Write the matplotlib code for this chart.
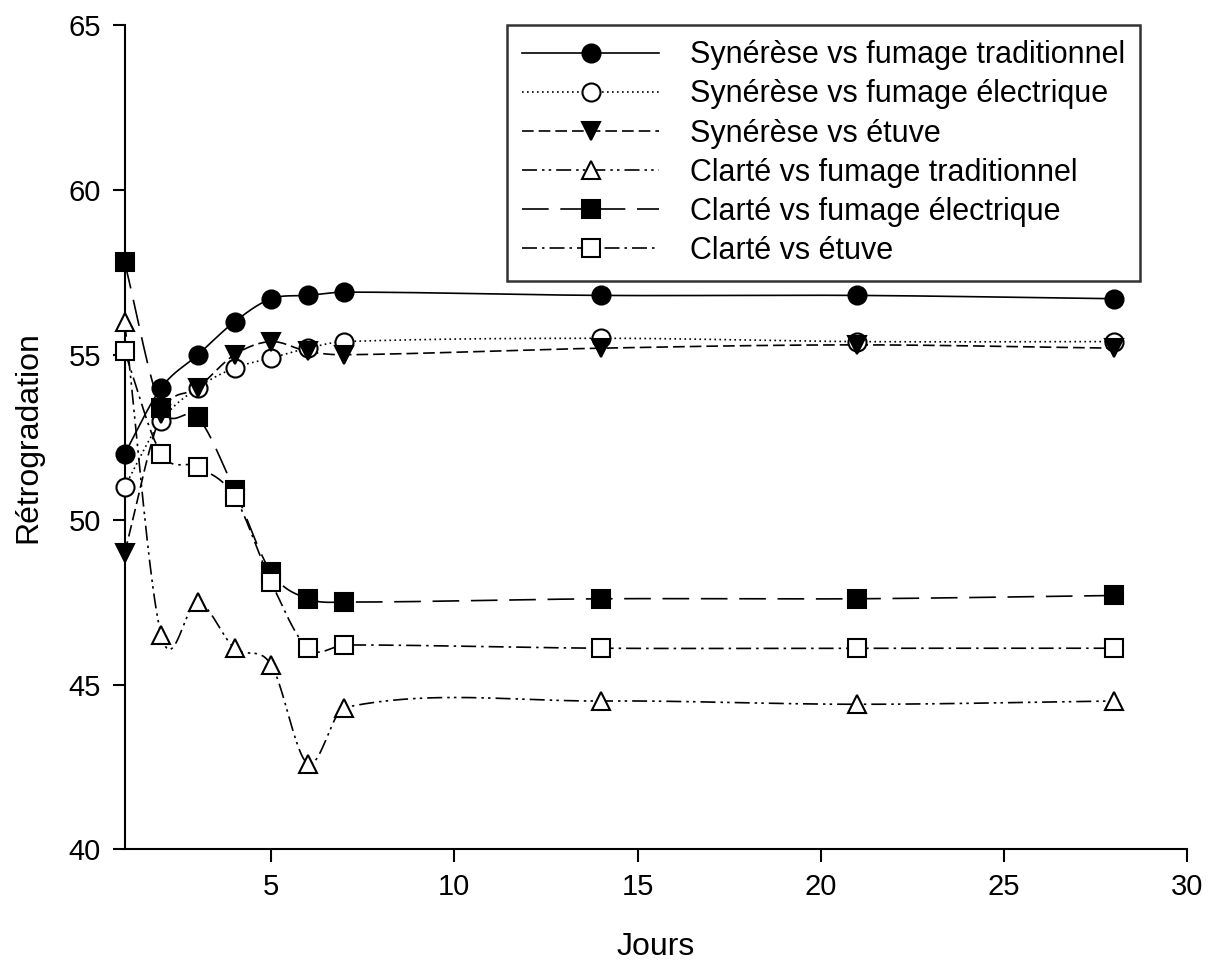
import numpy as np
import matplotlib.pyplot as plt

plt.rcParams['font.family'] = ['Liberation Sans', 'DejaVu Sans']

# data
jours = [1, 2, 3, 4, 5, 6, 7, 14, 21, 28]
syn_trad = [52.0, 54.0, 55.0, 56.0, 56.7, 56.8, 56.9, 56.8, 56.8, 56.7]
syn_elec = [51.0, 53.0, 54.0, 54.6, 54.9, 55.2, 55.4, 55.5, 55.4, 55.4]
syn_etuve = [49.0, 53.2, 54.0, 55.0, 55.4, 55.1, 55.0, 55.2, 55.3, 55.2]
cla_trad = [56.0, 46.5, 47.5, 46.1, 45.6, 42.6, 44.3, 44.5, 44.4, 44.5]
cla_elec = [57.8, 53.4, 53.1, 50.9, 48.4, 47.6, 47.5, 47.6, 47.6, 47.7]
cla_etuve = [55.1, 52.0, 51.6, 50.7, 48.1, 46.1, 46.2, 46.1, 46.1, 46.1]

labels = ['Synérèse vs fumage traditionnel', 'Synérèse vs fumage électrique',
          'Synérèse vs étuve', 'Clarté vs fumage traditionnel',
          'Clarté vs fumage électrique', 'Clarté vs étuve']


# smooth line through the points (cubic Hermite, Catmull-Rom tangents)
def smooth(x, y, n=40):
    x = np.asarray(x, float)
    y = np.asarray(y, float)
    m = np.zeros(len(x))
    m[1:-1] = (y[2:] - y[:-2]) / (x[2:] - x[:-2])
    m[0] = (y[1] - y[0]) / (x[1] - x[0])
    m[-1] = (y[-1] - y[-2]) / (x[-1] - x[-2])
    xs_all, ys_all = [], []
    for i in range(len(x) - 1):
        h = x[i + 1] - x[i]
        t = np.linspace(0, 1, n)
        h00 = 2 * t**3 - 3 * t**2 + 1
        h10 = t**3 - 2 * t**2 + t
        h01 = -2 * t**3 + 3 * t**2
        h11 = t**3 - t**2
        xs_all.append(x[i] + t * h)
        ys_all.append(h00 * y[i] + h10 * h * m[i] + h01 * y[i + 1] + h11 * h * m[i + 1])
    return np.concatenate(xs_all), np.concatenate(ys_all)


series = [syn_trad, syn_elec, syn_etuve, cla_trad, cla_elec, cla_etuve]
styles = [
    dict(ls='-', marker='o', mfc='black'),
    dict(ls=(0, (1, 2)), marker='o', mfc='white'),
    dict(ls=(0, (7, 3)), marker='v', mfc='black'),
    dict(ls=(0, (9, 3, 1.5, 2.5, 1.5, 3)), marker='^', mfc='white'),
    dict(ls=(0, (16, 7)), marker='s', mfc='black'),
    dict(ls=(0, (9, 3, 1.5, 3)), marker='s', mfc='white'),
]

fig = plt.figure(figsize=(12.1, 9.63), dpi=100)
ax = fig.add_axes([0.103, 0.118, 0.878, 0.856])

handles = []
for vals, st, lab in zip(series, styles, labels):
    xs, ys = smooth(jours, vals)
    ax.plot(xs, ys, color='black', lw=1.2, ls=st['ls'], zorder=2)
    ax.plot(jours, vals, ls='none', marker=st['marker'], ms=13, mfc=st['mfc'],
            mec='black', mew=1.5, zorder=3, clip_on=False)
    h, = ax.plot([], [], color='black', lw=1.2, ls=st['ls'], marker=st['marker'],
                 ms=13, mfc=st['mfc'], mec='black', mew=1.5, label=lab)
    handles.append(h)

ax.set_xlim(1, 30)
ax.set_ylim(40, 65)
ax.set_xticks([5, 10, 15, 20, 25, 30])
ax.set_yticks([40, 45, 50, 55, 60, 65])
ax.spines['top'].set_visible(False)
ax.spines['right'].set_visible(False)
ax.spines['left'].set_linewidth(1.5)
ax.spines['bottom'].set_linewidth(1.5)
ax.tick_params(direction='out', length=9, width=1.5, labelsize=21, pad=8)
ax.set_xlabel('Jours', fontsize=23, labelpad=22)
ax.set_ylabel('Rétrogradation', fontsize=23, labelpad=18)

leg = ax.legend(handles=handles, loc='upper right', bbox_to_anchor=(0.956, 1.0),
                fontsize=22, handlelength=4.5, handletextpad=1.0, frameon=True,
                fancybox=False, borderpad=0.5, labelspacing=0.3, borderaxespad=0)
leg.get_frame().set_edgecolor('black')
leg.get_frame().set_linewidth(1.8)

plt.savefig('out.png', dpi=100)
